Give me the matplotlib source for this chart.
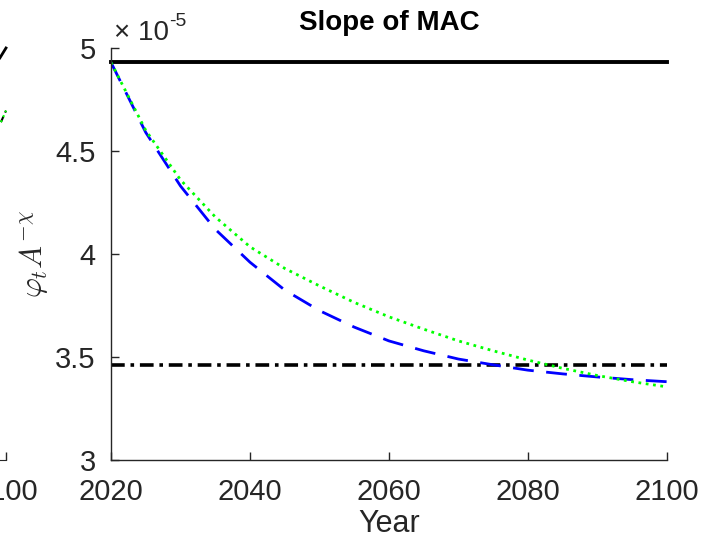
import matplotlib
matplotlib.use('Agg')
import matplotlib.pyplot as plt

#------------------------------------------------------------------------------
# Values (units of 1e-5)
years = [2020, 2025, 2030, 2035, 2040, 2045, 2050, 2055, 2060,
         2065, 2070, 2075, 2080, 2085, 2090, 2095, 2100]

slope_dashed = [4.93, 4.59, 4.33, 4.12, 3.96, 3.825, 3.725, 3.645, 3.578,
                3.53, 3.49, 3.462, 3.436, 3.418, 3.403, 3.39, 3.38]

slope_dotted = [4.93, 4.60, 4.36, 4.18, 4.035, 3.93, 3.845, 3.765, 3.695,
                3.635, 3.578, 3.53, 3.485, 3.445, 3.41, 3.38, 3.355]

upper_level = 4.932
lower_level = 3.461

year_ticks = [2020, 2040, 2060, 2080, 2100]
y_ticks = [3, 3.5, 4, 4.5, 5]
y_ticklabels = ['3', '3.5', '4', '4.5', '5']

# fragment of the neighbouring panel (cut off at the left edge)
frag_years_black = [2098.8, 2100]
frag_black = [0.976, 1.0]
frag_years_green = [2099.0, 2100]
frag_green = [0.82, 0.848]

#------------------------------------------------------------------------------
plt.rcParams['font.family'] = ['Liberation Sans', 'DejaVu Sans']
plt.rcParams['mathtext.fontset'] = 'cm'
ink = '#262626'

W, H = 702, 545
fig = plt.figure(figsize=(W / 100, H / 100), dpi=100)

# main panel
ax = fig.add_axes([111 / W, 1 - 460 / H, (667 - 111) / W, (460 - 48) / H])

ax.plot([2020, 2100], [upper_level, upper_level], color='black', linewidth=2.8,
        clip_on=False)
ax.plot([2020, 2100], [lower_level, lower_level], color='black', linewidth=2.6,
        dashes=(3.8, 1.6, 1.0, 1.6))
ax.plot(years, slope_dashed, color='#0000ff', linewidth=2.0, dashes=(7.5, 4.5))
ax.plot(years, slope_dotted, color='#00ff00', linewidth=2.0, linestyle=':')

ax.set_xlim(2020, 2100)
ax.set_ylim(3, 5)
ax.set_xticks(year_ticks)
ax.set_yticks(y_ticks)
ax.set_yticklabels(y_ticklabels)
ax.tick_params(direction='in', length=6, width=1, colors=ink, labelsize=21)
ax.tick_params(axis='x', pad=13)
ax.tick_params(axis='y', pad=11)
for side in ['top', 'right']:
    ax.spines[side].set_visible(False)
for side in ['left', 'bottom']:
    ax.spines[side].set_color(ink)
    ax.spines[side].set_linewidth(1.0)

ax.set_xlabel('Year', fontsize=22, color=ink, labelpad=2)
ax.set_ylabel(r'$\varphi_t A^{-\chi}$', fontsize=22, color=ink, labelpad=4)

fig.text(389 / W, 1 - 23 / H, 'Slope of MAC', fontsize=20, fontweight='bold',
         ha='center', va='center', color='black')
fig.text(114 / W, 1 - 40 / H, '\u00d7 10', fontsize=20, color=ink,
         ha='left', va='baseline')
fig.text(169 / W, 1 - 26 / H, '-5', fontsize=14, color=ink,
         ha='left', va='baseline')

# cut-off neighbouring panel
axl = fig.add_axes([-400 / W, 1 - 460 / H, 406 / W, (460 - 48) / H])
axl.plot(frag_years_black, frag_black, color='black', linewidth=2.0,
         clip_on=False)
axl.plot(frag_years_green, frag_green, color='black', linewidth=1.5,
         dashes=(3, 2), clip_on=False)
axl.plot(frag_years_green, frag_green, color='#00ff00', linewidth=1.5,
         linestyle=':', clip_on=False)
axl.set_xlim(2020, 2100)
axl.set_ylim(0, 1)
axl.set_xticks([2100])
axl.set_yticks([])
axl.tick_params(direction='in', length=6, width=1, colors=ink,
                labelsize=21, pad=13)
for side in ['top', 'right', 'left']:
    axl.spines[side].set_visible(False)
axl.spines['bottom'].set_color(ink)

fig.savefig('out.png', dpi=100)
